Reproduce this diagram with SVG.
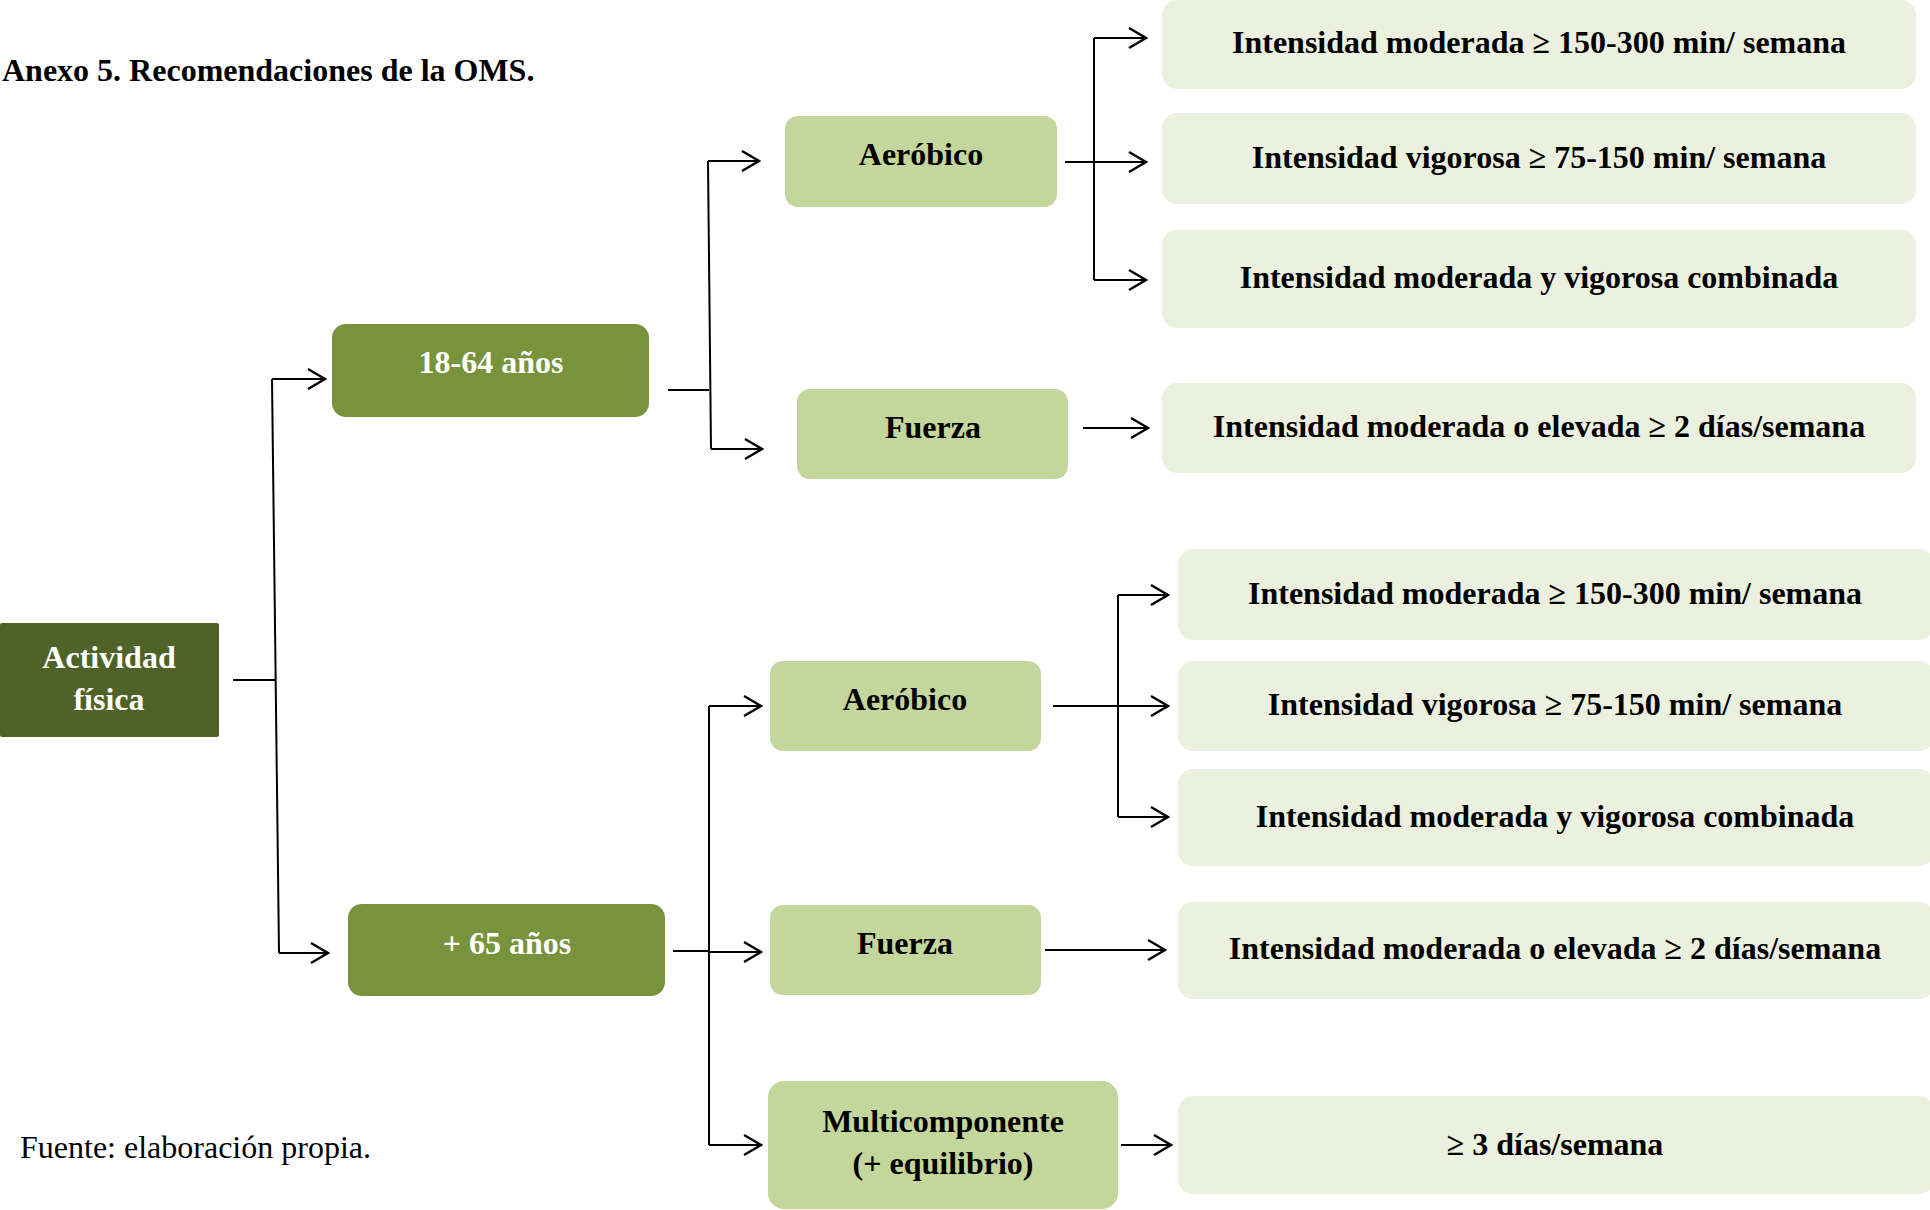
<svg xmlns="http://www.w3.org/2000/svg" width="1930" height="1210" viewBox="0 0 1930 1210">
  <style>
    text { font-family: "Liberation Serif", "Times New Roman", serif; font-size: 32px; }
    .b { font-weight: bold; }
    .c { text-anchor: middle; }
    .w { fill: #ffffff; }
    .k { fill: #000000; }
    .root { fill: #4F6228; }
    .age { fill: #77933C; }
    .type { fill: #C3D69B; }
    .rec { fill: #EBF1DE; }
    .ln { fill: none; stroke: #000000; stroke-width: 2; }
    .ar { marker-end: url(#arrow); }
  </style>
  <defs>
    <marker id="arrow" viewBox="-20 -12 22 24" refX="0" refY="0" markerWidth="22" markerHeight="24" markerUnits="userSpaceOnUse" orient="auto">
      <path d="M-17,-10 L0,0 L-17,10" fill="none" stroke="#000000" stroke-width="2.4" stroke-linejoin="miter"/>
    </marker>
  </defs>

  <rect width="1930" height="1210" fill="#ffffff"/>

  <text id="title" class="b k" x="2" y="81">Anexo 5. Recomendaciones de la OMS.</text>
  <text id="source" class="k" x="20" y="1158">Fuente: elaboración propia.</text>

  <!-- connectors -->
  <g id="connectors">
    <!-- Actividad física split -->
    <path class="ln" d="M233,680 H275"/>
    <path class="ln" d="M272,379 L279,953"/>
    <path class="ln ar" d="M272,379 H325"/>
    <path class="ln ar" d="M279,953 H328"/>
    <!-- 18-64 años split -->
    <path class="ln" d="M668,390 H709"/>
    <path class="ln" d="M708,161 L711,449"/>
    <path class="ln ar" d="M708,161 H759"/>
    <path class="ln ar" d="M711,449 H762"/>
    <!-- Aeróbico (18-64) -->
    <path class="ln ar" d="M1065,162 H1146"/>
    <path class="ln" d="M1094,38 V280"/>
    <path class="ln ar" d="M1094,38 H1146"/>
    <path class="ln ar" d="M1094,280 H1146"/>
    <!-- Fuerza (18-64) -->
    <path class="ln ar" d="M1083,428 H1148"/>
    <!-- + 65 años split -->
    <path class="ln" d="M673,951 H709"/>
    <path class="ln" d="M709,706 V1145"/>
    <path class="ln ar" d="M709,706 H761"/>
    <path class="ln ar" d="M709,952 H761"/>
    <path class="ln ar" d="M709,1145 H761"/>
    <!-- Aeróbico (+65) -->
    <path class="ln ar" d="M1053,706 H1168"/>
    <path class="ln" d="M1118,595 V817"/>
    <path class="ln ar" d="M1118,595 H1168"/>
    <path class="ln ar" d="M1118,817 H1168"/>
    <!-- Fuerza (+65) -->
    <path class="ln ar" d="M1045,950 H1165"/>
    <!-- Multicomponente -->
    <path class="ln ar" d="M1121,1145 H1171"/>
  </g>

  <!-- root -->
  <g id="actividad">
    <rect class="root" x="0" y="623" width="219" height="114" rx="2"/>
    <text class="b c w" x="109" y="668">Actividad</text>
    <text class="b c w" x="109" y="710">física</text>
  </g>

  <!-- age groups -->
  <g id="age-18-64">
    <rect class="age" x="332" y="324" width="317" height="93" rx="14"/>
    <text class="b c w" x="491" y="373">18-64 años</text>
  </g>
  <g id="age-65">
    <rect class="age" x="348" y="904" width="317" height="92" rx="14"/>
    <text class="b c w" x="507" y="954">+ 65 años</text>
  </g>

  <!-- activity types -->
  <g id="aerobico-1">
    <rect class="type" x="785" y="116" width="272" height="91" rx="13"/>
    <text class="b c k" x="921" y="165">Aeróbico</text>
  </g>
  <g id="fuerza-1">
    <rect class="type" x="797" y="389" width="271" height="90" rx="13"/>
    <text class="b c k" x="933" y="438">Fuerza</text>
  </g>
  <g id="aerobico-2">
    <rect class="type" x="770" y="661" width="271" height="90" rx="13"/>
    <text class="b c k" x="905" y="710">Aeróbico</text>
  </g>
  <g id="fuerza-2">
    <rect class="type" x="770" y="905" width="271" height="90" rx="13"/>
    <text class="b c k" x="905" y="954">Fuerza</text>
  </g>
  <g id="multicomponente">
    <rect class="type" x="768" y="1081" width="350" height="128" rx="16"/>
    <text class="b c k" x="943" y="1132">Multicomponente</text>
    <text class="b c k" x="943" y="1174">(+ equilibrio)</text>
  </g>

  <!-- recommendations, 18-64 -->
  <g id="rec-1-mod">
    <rect class="rec" x="1162" y="0" width="754" height="89" rx="15"/>
    <text class="b c k" x="1539" y="53">Intensidad moderada ≥ 150-300 min/ semana</text>
  </g>
  <g id="rec-1-vig">
    <rect class="rec" x="1162" y="113" width="754" height="91" rx="15"/>
    <text class="b c k" x="1539" y="168">Intensidad vigorosa ≥ 75-150 min/ semana</text>
  </g>
  <g id="rec-1-comb">
    <rect class="rec" x="1162" y="230" width="754" height="98" rx="15"/>
    <text class="b c k" x="1539" y="288">Intensidad moderada y vigorosa combinada</text>
  </g>
  <g id="rec-1-fuerza">
    <rect class="rec" x="1162" y="383" width="754" height="90" rx="15"/>
    <text class="b c k" x="1539" y="437">Intensidad moderada o elevada ≥ 2 días/semana</text>
  </g>

  <!-- recommendations, +65 -->
  <g id="rec-2-mod">
    <rect class="rec" x="1178" y="549" width="756" height="91" rx="15"/>
    <text class="b c k" x="1555" y="604">Intensidad moderada ≥ 150-300 min/ semana</text>
  </g>
  <g id="rec-2-vig">
    <rect class="rec" x="1178" y="661" width="756" height="90" rx="15"/>
    <text class="b c k" x="1555" y="715">Intensidad vigorosa ≥ 75-150 min/ semana</text>
  </g>
  <g id="rec-2-comb">
    <rect class="rec" x="1178" y="769" width="756" height="97" rx="15"/>
    <text class="b c k" x="1555" y="827">Intensidad moderada y vigorosa combinada</text>
  </g>
  <g id="rec-2-fuerza">
    <rect class="rec" x="1178" y="902" width="756" height="97" rx="15"/>
    <text class="b c k" x="1555" y="959">Intensidad moderada o elevada ≥ 2 días/semana</text>
  </g>
  <g id="rec-2-multi">
    <rect class="rec" x="1178" y="1096" width="756" height="98" rx="15"/>
    <text class="b c k" x="1555" y="1155">≥ 3 días/semana</text>
  </g>
</svg>
